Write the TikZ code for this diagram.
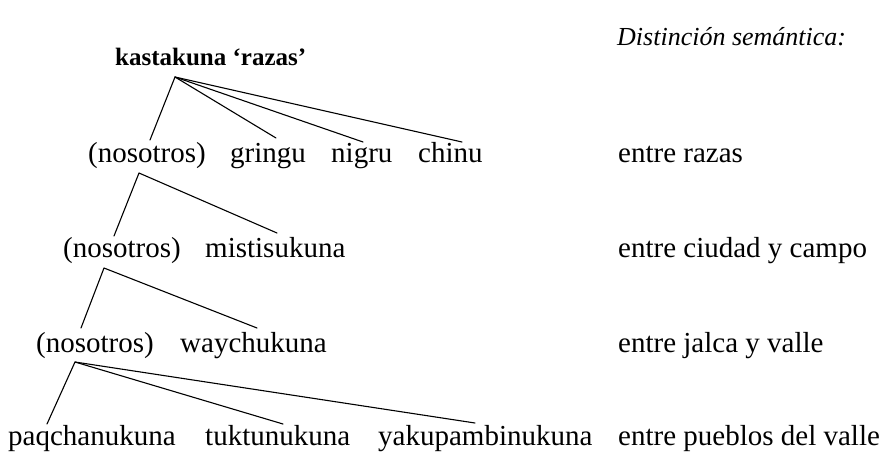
\documentclass[tikz,border=0pt]{standalone}
\usepackage{fontspec}
\setmainfont{Liberation Serif}
\begin{document}
\begin{tikzpicture}[x=1pt,y=-1pt,
  word/.style={anchor=base west,inner sep=0pt,font=\fontsize{29}{34}\selectfont},
  title/.style={anchor=base west,inner sep=0pt,font=\fontsize{25}{30}\selectfont\bfseries},
  head/.style={anchor=base west,inner sep=0pt,font=\fontsize{26}{31}\selectfont\itshape},
  branch/.style={line width=1.1pt,line cap=round,line join=round}]
\useasboundingbox (0,0) rectangle (883,453);
% texts
\node[title] (kasta) at (115,65) {kastakuna ‘razas’};
\node[head] (dist) at (617,45) {Distinción semántica:};
\node[word] (nos1) at (88,162) {(nosotros)};
\node[word] (gringu) at (230,162) {gringu};
\node[word] (nigru) at (331,162) {nigru};
\node[word] (chinu) at (418,162) {chinu};
\node[word] (nos2) at (63,257) {(nosotros)};
\node[word] (misti) at (205,257) {mistisukuna};
\node[word] (nos3) at (36,352) {(nosotros)};
\node[word] (waychu) at (180,352) {waychukuna};
\node[word] (paqcha) at (8,445) {paqchanukuna};
\node[word] (tuktu) at (205,445) {tuktunukuna};
\node[word] (yaku) at (378,445) {yakupambinukuna};
\node[word] (d1) at (618,162) {entre razas};
\node[word] (d2) at (618,257) {entre ciudad y campo};
\node[word] (d3) at (618,352) {entre jalca y valle};
\node[word] (d4) at (618,445) {entre pueblos del valle};
% branch points
\coordinate (a1) at (175,77);
\coordinate (a2) at (139,173);
\coordinate (a3) at (104,268);
\coordinate (a4) at (75,362);
\coordinate (nos1t) at (150,140);
\coordinate (gringut) at (276,138);
\coordinate (nigrut) at (363,142);
\coordinate (chinut) at (462,142);
\coordinate (nos2t) at (114,236);
\coordinate (mistit) at (277,233);
\coordinate (nos3t) at (81,328);
\coordinate (waychut) at (257,328);
\coordinate (paqchat) at (47,424);
\coordinate (tuktut) at (283,424);
\coordinate (yakut) at (475,423);
% connectors
\draw[branch] (nos1t) -- (a1) -- (gringut);
\draw[branch] (a1) -- (nigrut);
\draw[branch] (a1) -- (chinut);
\draw[branch] (nos2t) -- (a2) -- (mistit);
\draw[branch] (nos3t) -- (a3) -- (waychut);
\draw[branch] (paqchat) -- (a4) -- (tuktut);
\draw[branch] (a4) -- (yakut);
\end{tikzpicture}
\end{document}
